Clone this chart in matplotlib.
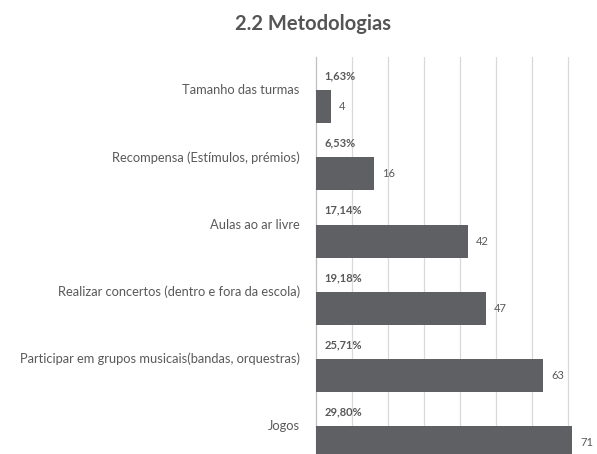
import matplotlib
matplotlib.use("Agg")
import matplotlib.pyplot as plt

categories = [
    "Tamanho das turmas",
    "Recompensa (Estímulos, prémios)",
    "Aulas ao ar livre",
    "Realizar concertos (dentro e fora da escola)",
    "Participar em grupos musicais(bandas, orquestras)",
    "Jogos",
]
counts = [4, 16, 42, 47, 63, 71]
percents = ["1,63%", "6,53%", "17,14%", "19,18%", "25,71%", "29,80%"]

plt.rcParams['font.family'] = ['Lato', 'DejaVu Sans']
text_col = "#595959"
bar_col = "#5f6063"

fig = plt.figure(figsize=(5.97, 4.54), dpi=100)
# axes runs past the right and bottom edges, the reference is cropped there
ax = fig.add_axes([0.530, -0.055, 0.4824, 0.9295])

ys = list(range(len(categories)))
bar_off = 0.26
pct_off = -0.20

ax.barh([y + bar_off for y in ys], counts, height=0.49, color=bar_col, zorder=3)

for y, c, p in zip(ys, counts, percents):
    ax.text(c + 2.2, y + bar_off, str(c), va="center", ha="left",
            fontsize=8, color=text_col)
    ax.text(2.2, y + pct_off, p, va="center", ha="left",
            fontsize=8, fontweight="bold", color=text_col)

ax.set_xlim(0, 80)
ax.set_ylim(5.8, -0.48)
ax.set_xticks(range(10, 81, 10))
ax.set_xticklabels([])
ax.tick_params(axis="x", length=0)
ax.set_yticks(ys)
ax.set_yticklabels(categories, fontsize=9.3, color=text_col)
ax.tick_params(axis="y", length=0, pad=12)
ax.grid(axis="x", color="#d9d9d9", linewidth=0.9, zorder=0)
for s in ["top", "right", "bottom"]:
    ax.spines[s].set_visible(False)
ax.spines["left"].set_color("#bfbfbf")
ax.spines["left"].set_linewidth(0.9)

fig.text(0.525, 0.948, "2.2 Metodologias", ha="center", va="center",
         fontsize=14.5, fontweight="bold", color="#555555")

fig.savefig("out.png", dpi=100)
